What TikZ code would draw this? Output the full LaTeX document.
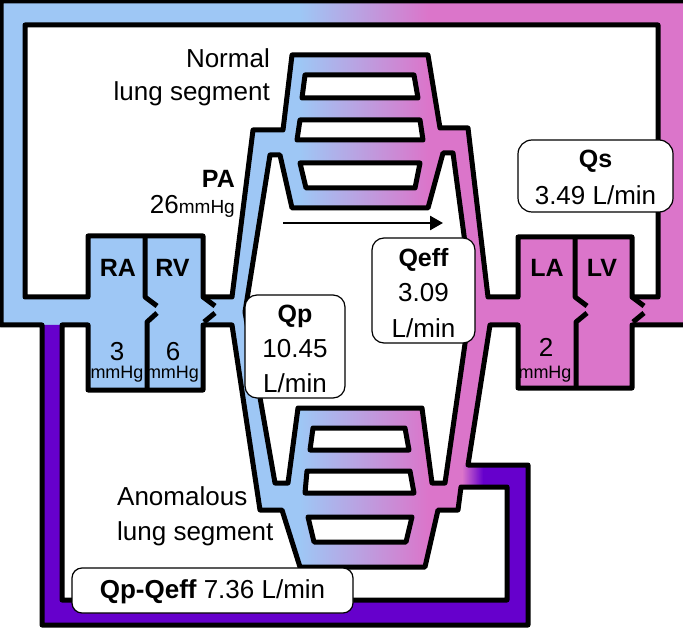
\documentclass[tikz,border=0pt]{standalone}
\usepackage{fontspec}
\setmainfont{Liberation Sans}
\usetikzlibrary{arrows.meta}
\definecolor{BloodBlue}{RGB}{158,199,245}
\definecolor{BloodPink}{RGB}{219,117,202}
\definecolor{BloodPurple}{RGB}{102,0,204}
\tikzset{
	wall/.style={line width=5pt,line join=round},
	slot/.style={wall,fill=white},
	flowbox/.style={draw,line width=1.2pt,fill=white,rounded corners=12pt,inner sep=0pt},
	txt/.style={inner sep=0pt,font=\fontsize{26}{30}\selectfont},
	btxt/.style={inner sep=0pt,font=\fontsize{25}{30}\selectfont\bfseries},
	stxt/.style={inner sep=0pt,font=\fontsize{18}{20}\selectfont}
}
\begin{document}
\begin{tikzpicture}[x=1pt,y=-1pt]
			\useasboundingbox (0,0) rectangle (683,628);
			% vessels
			\begin{scope}
				\clip (1,1) -- (686,1) -- (686,325) -- (632,325) -- (632,388) -- (518,388) -- (518,325) -- (490,325) -- (468,465) -- (528,465) -- (528,625) -- (42,625) -- (42,325) -- (1,325) -- cycle;
				\fill[BloodBlue] (0,0) rectangle (300,628);
				\shade[left color=BloodBlue,right color=BloodPink] (300,0) rectangle (428,628);
				\fill[BloodPink] (428,0) rectangle (686,628);
			\end{scope}
			\fill[BloodPurple] (42,325) -- (42,625) -- (528,625) -- (528,465) -- (483,465) -- (483,487) -- (507,487) -- (507,600) -- (62,600) -- (62,325) -- cycle;
			\shade[left color=BloodPink,right color=BloodPurple] (462,465) rectangle (483,487);
			% white spaces
			\draw[slot] (25,25) -- (658,25) -- (658,297) -- (632,297) -- (632,237) -- (518,237) -- (518,297) -- (488,297) -- (468,128) -- (440,128) -- (428,55) -- (292,55) -- (283,130) -- (253,130) -- (232,297) -- (203,297) -- (203,236) -- (88,236) -- (88,297) -- (25,297) -- cycle;
			\draw[slot] (62,325) -- (88,325) -- (88,390) -- (203,390) -- (203,325) -- (232,325) -- (260,510) -- (282,510) -- (300,567) -- (425,567) -- (438,510) -- (458,510) -- (461,487) -- (507,487) -- (507,600) -- (62,600) -- cycle;
			\draw[slot] (270,155) -- (280,155) -- (292,208) -- (428,208) -- (443,153) -- (453,153) -- (472,295) -- (445,483) -- (432,483) -- (422,408) -- (298,408) -- (288,483) -- (275,483) -- (245,312) -- cycle;
			\draw[slot] (305,75) -- (414,75) -- (418,98) -- (302,98) -- cycle;
			\draw[slot] (300,120) -- (420,120) -- (423,140) -- (297,140) -- cycle;
			\draw[slot] (300,163) -- (420,163) -- (415,188) -- (306,188) -- cycle;
			\draw[slot] (313,428) -- (405,428) -- (409,450) -- (310,450) -- cycle;
			\draw[slot] (307,471) -- (410,471) -- (414,493) -- (305,493) -- cycle;
			\draw[slot] (308,517) -- (412,517) -- (406,542) -- (314,542) -- cycle;
			\draw[wall] (1,1) -- (686,1) -- (686,325) -- (632,325) -- (632,388) -- (518,388) -- (518,325) -- (490,325) -- (468,465) -- (528,465) -- (528,625) -- (42,625) -- (42,325) -- (1,325) -- cycle;
			% valves
			\draw[wall] (145,236) -- (145,297) -- (157,306);
			\draw[wall] (157,313) -- (147,322) -- (147,390);
			\draw[wall] (203,297) -- (215,306);
			\draw[wall] (215,313) -- (204,322);
			\draw[wall] (575,237) -- (575,297) -- (587,306);
			\draw[wall] (587,313) -- (576,322) -- (576,388);
			\draw[wall] (632,297) -- (644,306);
			\draw[wall] (644,313) -- (633,322);
			\coordinate (flowStart) at (283,223);
			\coordinate (flowEnd) at (443,223);
			\draw[line width=2.5pt,-{Triangle[length=13pt,width=14pt]}] (flowStart) -- (flowEnd);
			% flow boxes
			\node[flowbox,minimum width=100pt,minimum height=103pt] (QpBox) at (295,346.5) {};
			\node[flowbox,minimum width=103pt,minimum height=105pt] (QeffBox) at (423.5,290.5) {};
			\node[flowbox,minimum width=155pt,minimum height=72pt,rounded corners=14pt] (QsBox) at (595.5,176) {};
			\node[flowbox,minimum width=281pt,minimum height=45pt,rounded corners=10pt] (QdiffBox) at (212.5,590.5) {};
			\node[txt,anchor=base east] (normalA) at (270,68) {Normal};
			\node[txt,anchor=base east] (normalB) at (270,101) {lung segment};
			\node[txt,anchor=base west] (anomA) at (117,505) {Anomalous};
			\node[txt,anchor=base west] (anomB) at (117,540) {lung segment};
			\node[btxt,anchor=base east] (PA) at (235,188) {PA};
			\node[txt,anchor=base east] (PAp) at (235,214) {26{\fontsize{19}{20}\selectfont mmHg}};
			\node[btxt,anchor=base] (RA) at (118,277) {RA};
			\node[btxt,anchor=base] (RV) at (172.5,277) {RV};
			\node[btxt,anchor=base] (LA) at (547,277) {LA};
			\node[btxt,anchor=base] (LV) at (602,277) {LV};
			\node[txt,anchor=base] (RAp) at (117,360) {3};
			\node[stxt,anchor=base] (RAu) at (117,378) {mmHg};
			\node[txt,anchor=base] (RVp) at (173,360) {6};
			\node[stxt,anchor=base] (RVu) at (172.5,378) {mmHg};
			\node[txt,anchor=base] (LAp) at (546,357) {2};
			\node[stxt,anchor=base] (LAu) at (545,378) {mmHg};
			\node[btxt,anchor=base] (QpA) at (295,323) {Qp};
			\node[txt,anchor=base] (QpB) at (295,358) {10.45};
			\node[txt,anchor=base] (QpC) at (295,392) {L/min};
			\node[btxt,anchor=base] (QeffA) at (423.5,267) {Qeff};
			\node[txt,anchor=base] (QeffB) at (423.5,302) {3.09};
			\node[txt,anchor=base] (QeffC) at (423.5,338) {L/min};
			\node[btxt,anchor=base] (QsA) at (595.5,168) {Qs};
			\node[txt,anchor=base] (QsB) at (595.5,205) {3.49 L/min};
			\node[txt,anchor=base] (Qdiff) at (212.5,598) {{\bfseries Qp-Qeff} 7.36 L/min};
		\end{tikzpicture}
\end{document}
